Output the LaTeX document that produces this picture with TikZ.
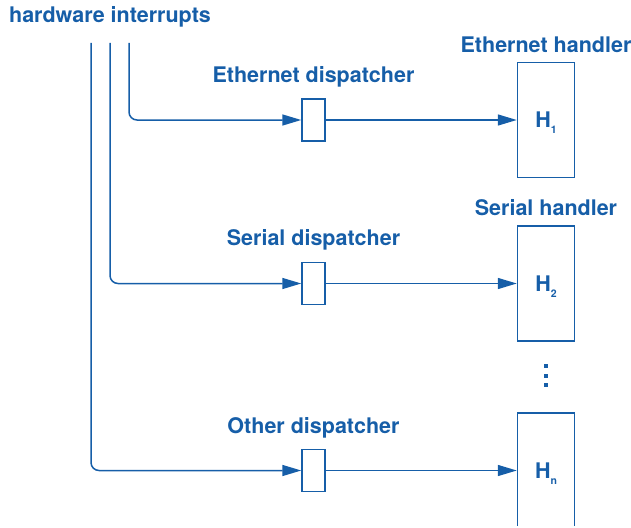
\documentclass[tikz,border=0pt]{standalone}
\usepackage{fontspec}
\setmainfont{TeX Gyre Heros}
\usetikzlibrary{arrows.meta}
\definecolor{irqblue}{RGB}{22,94,168}
\newcommand{\hsub}[1]{H\smash{\raisebox{-6pt}{\fontsize{10.5}{10.5}\selectfont #1}}}

\begin{document}
\begin{tikzpicture}[x=1pt,y=1pt]
            \tikzstyle{every node}+=[inner sep=0pt, text=irqblue, font=\fontsize{21.5}{25}\selectfont\bfseries]
            \tikzstyle{dispbox}=[draw=irqblue, line width=1.5pt, minimum width=23pt, minimum height=42pt]
            \tikzstyle{handbox}=[draw=irqblue, line width=1.5pt, minimum width=57pt, minimum height=115pt]
            \tikzstyle{wire}=[draw=irqblue, line width=1.5pt, rounded corners=8pt, -{Triangle[length=19pt,width=11pt]}]
            \useasboundingbox (0,0) rectangle (631,-527);
            \clip (-1,1) rectangle (632,-525);
            \node (hw) at (110,-17) {hardware interrupts};
            \coordinate (t1) at (129,-43);
            \coordinate (t2) at (110,-43);
            \coordinate (t3) at (91,-43);
            \node [dispbox] (d1) at (313.5,-120) {};
            \node (d1lab) at (313.5,-77) {Ethernet dispatcher};
            \node [handbox] (h1) at (546,-120) {\hsub{1}};
            \node (h1lab) at (546,-45) {Ethernet handler};
            \node [dispbox] (d2) at (313.5,-283.5) {};
            \node (d2lab) at (313.5,-240) {Serial dispatcher};
            \node [handbox] (h2) at (546,-283.5) {\hsub{2}};
            \node (h2lab) at (546,-208) {Serial handler};
            \node [dispbox] (d3) at (313.5,-470.5) {};
            \node (d3lab) at (313.5,-428) {Other dispatcher};
            \node [handbox] (h3) at (546,-470.5) {\hsub{n}};
            \foreach \y in {366,375.5,385}
                \fill [irqblue] (544,-\y-2) rectangle +(4,4);
            \draw [wire] (t1) |- (d1.west);
            \draw [wire] (d1.east) -- (h1.west);
            \draw [wire] (t2) |- (d2.west);
            \draw [wire] (d2.east) -- (h2.west);
            \draw [wire] (t3) |- (d3.west);
            \draw [wire] (d3.east) -- (h3.west);
\end{tikzpicture}
\end{document}
